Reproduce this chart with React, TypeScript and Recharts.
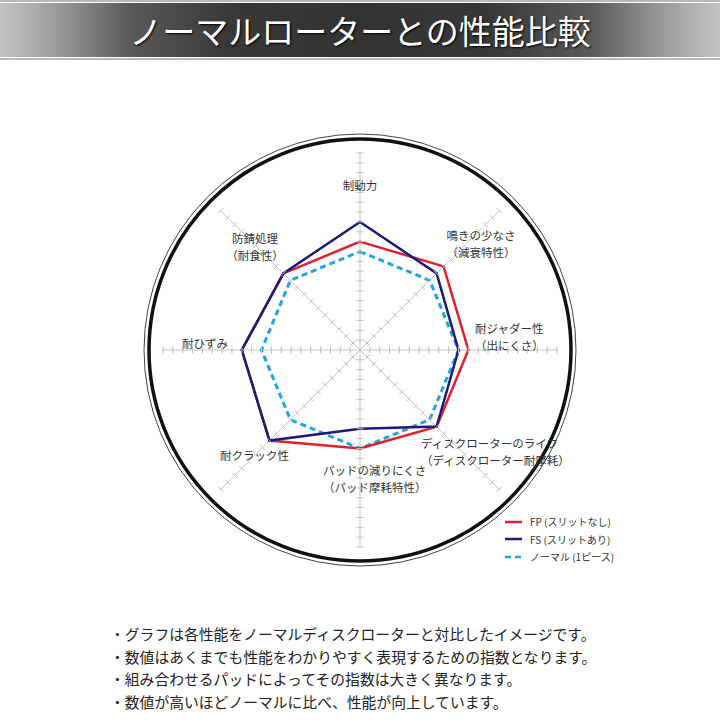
import React from 'react';
import { Legend, PolarAngleAxis, PolarGrid, PolarRadiusAxis, Radar, RadarChart } from 'recharts';

const categories = [
  '制動力',
  '鳴きの少なさ',
  '耐ジャダー性',
  'ディスクローターのライフ',
  'パッドの減りにくさ',
  '耐クラック性',
  '耐ひずみ',
  '防錆処理',
];
const categoryNotes = ['', '（減衰特性）', '（出にくさ）', '（ディスクローター耐摩耗）', '（パッド摩耗特性）', '', '', '（耐食性）'];

const fpValues = [11, 12, 11, 11, 10, 13, 12, 11];
const fsValues = [13, 11, 10, 11, 8, 13, 12, 11];
const normalValues = [10, 10, 10, 10, 10, 10, 10, 10];

const seriesNames = ['FP (スリットなし)', 'FS (スリットあり)', 'ノーマル (1ピース)'];

const notes = [
  '・グラフは各性能をノーマルディスクローターと対比したイメージです。',
  '・数値はあくまでも性能をわかりやすく表現するための指数となります。',
  '・組み合わせるパッドによってその指数は大きく異なります。',
  '・数値が高いほどノーマルに比べ、性能が向上しています。',
];

const data = categories.map((subject, i) => ({
  subject,
  fp: fpValues[i],
  fs: fsValues[i],
  normal: normalValues[i],
}));

const CX = 360;
const CY = 350;
const R = 197;
const FONT = '"Noto Sans CJK JP", "Noto Sans", sans-serif';
const RED = '#e2202c';
const NAVY = '#1c1c78';
const SKY = '#22a3e3';

// label placement relative to the chart centre
const labelPos: [number, number, 'start' | 'middle' | 'end'][] = [
  [0, -165, 'middle'],
  [121, -115, 'middle'],
  [115, -22, 'start'],
  [61, 93, 'start'],
  [-37, 120, 'start'],
  [-140, 105, 'start'],
  [-178, -7, 'start'],
  [-105, -112, 'middle'],
];

const spokeAngles = [90, 45, 0, -45, -90, -135, 180, 135];

function AngleTick(props: any) {
  const i = typeof props.index === 'number' ? props.index : categories.indexOf(props.payload?.value);
  const [dx, dy, anchor] = labelPos[i];
  const x = CX + dx;
  const y = CY + dy;
  return (
    <text textAnchor={anchor} fontSize={11.5} fill="#333" fontFamily={FONT}>
      <tspan x={x} y={y} dominantBaseline="central">
        {categories[i]}
      </tspan>
      {categoryNotes[i] ? (
        <tspan x={x} y={y + 17} dominantBaseline="central">
          {categoryNotes[i]}
        </tspan>
      ) : null}
    </text>
  );
}

// tick marks across every spoke at the radius of this tick
function RadiusTick(props: any) {
  const r = Math.hypot(props.x - CX, props.y - CY);
  if (r < 1) return <g />;
  const h = 3.5;
  return (
    <g>
      {spokeAngles.map((a) => {
        const t = (a * Math.PI) / 180;
        const px = CX + r * Math.cos(t);
        const py = CY - r * Math.sin(t);
        const nx = Math.sin(t);
        const ny = Math.cos(t);
        return (
          <line
            key={a}
            x1={px - h * nx}
            y1={py - h * ny}
            x2={px + h * nx}
            y2={py + h * ny}
            stroke="#bdbdbd"
            strokeWidth={1}
          />
        );
      })}
    </g>
  );
}

function LegendContent(props: any) {
  const items = [...(props.payload || [])].sort(
    (a: any, b: any) => seriesNames.indexOf(a.value) - seriesNames.indexOf(b.value)
  );
  return (
    <div style={{ fontFamily: FONT, fontSize: 10, color: '#333' }}>
      {items.map((item: any) => (
        <div key={item.value} style={{ display: 'flex', alignItems: 'center', height: 17.5 }}>
          <svg width={25} height={6} style={{ marginRight: 2 }}>
            <line
              x1={2}
              y1={3}
              x2={19}
              y2={3}
              stroke={item.color}
              strokeWidth={2.5}
              strokeDasharray={item.payload?.strokeDasharray}
            />
          </svg>
          <span>{item.value}</span>
        </div>
      ))}
    </div>
  );
}

export default function App() {
  return (
    <div
      style={{
        position: 'absolute',
        left: 0,
        top: 0,
        width: 720,
        height: 720,
        background: '#fff',
        overflow: 'hidden',
      }}
    >
      <RadarChart width={720} height={720} data={data} cx={CX} cy={CY} outerRadius={R} margin={{ top: 0, right: 0, bottom: 0, left: 0 }}>
        <PolarGrid gridType="circle" radialLines={false} polarRadius={[216]} stroke="#444" strokeWidth={1} />
        <PolarGrid gridType="circle" radialLines={false} polarRadius={[211]} stroke="#111" strokeWidth={3.5} />
        <PolarGrid gridType="polygon" polarRadius={[]} stroke="#c4c4c4" strokeWidth={1} />
        <PolarAngleAxis dataKey="subject" tick={AngleTick} axisLine={false} tickLine={false} />
        <PolarRadiusAxis angle={90} domain={[0, 20]} tickCount={21} axisLine={false} tick={RadiusTick} />
        <Radar
          name={seriesNames[2]}
          dataKey="normal"
          stroke={SKY}
          strokeWidth={3}
          strokeDasharray="6 4"
          fill="none"
          fillOpacity={0}
          dot={{ r: 3, fill: SKY, stroke: 'none' }}
          isAnimationActive={false}
        />
        <Radar
          name={seriesNames[0]}
          dataKey="fp"
          stroke={RED}
          strokeWidth={2.5}
          fill="none"
          fillOpacity={0}
          dot={{ r: 3, fill: RED, stroke: 'none' }}
          isAnimationActive={false}
        />
        <Radar
          name={seriesNames[1]}
          dataKey="fs"
          stroke={NAVY}
          strokeWidth={2.5}
          fill="none"
          fillOpacity={0}
          dot={{ r: 3, fill: NAVY, stroke: 'none' }}
          isAnimationActive={false}
        />
        <Legend content={LegendContent} wrapperStyle={{ position: 'absolute', left: 503, top: 513, width: 140, height: 55 }} />
      </RadarChart>

      <div
        style={{
          position: 'absolute',
          left: 0,
          top: 0,
          width: 720,
          height: 60,
          background: '#fff',
          borderTop: '2px solid #b8b8b8',
          borderBottom: '2px solid #b8b8b8',
          boxSizing: 'border-box',
        }}
      >
        <div
          style={{
            position: 'absolute',
            left: 0,
            top: 1,
            width: 720,
            height: 54,
            background:
              'linear-gradient(to right, #c4c4c4 0%, #9a9a9a 8%, #5a5a5a 18%, #383838 32%, #333 50%, #383838 68%, #5a5a5a 82%, #9a9a9a 92%, #c4c4c4 100%)',
            color: '#fff',
            fontFamily: FONT,
            fontSize: 33,
            lineHeight: '54px',
            textAlign: 'center',
            textShadow: '1px 1px 2px #000',
          }}
        >
          ノーマルローターとの性能比較
        </div>
      </div>

      <div
        style={{
          position: 'absolute',
          left: 110,
          top: 623,
          fontFamily: FONT,
          fontSize: 14.8,
          lineHeight: '22.7px',
          color: '#222',
          whiteSpace: 'nowrap',
        }}
      >
        {notes.map((n) => (
          <div key={n}>{n}</div>
        ))}
      </div>
    </div>
  );
}
